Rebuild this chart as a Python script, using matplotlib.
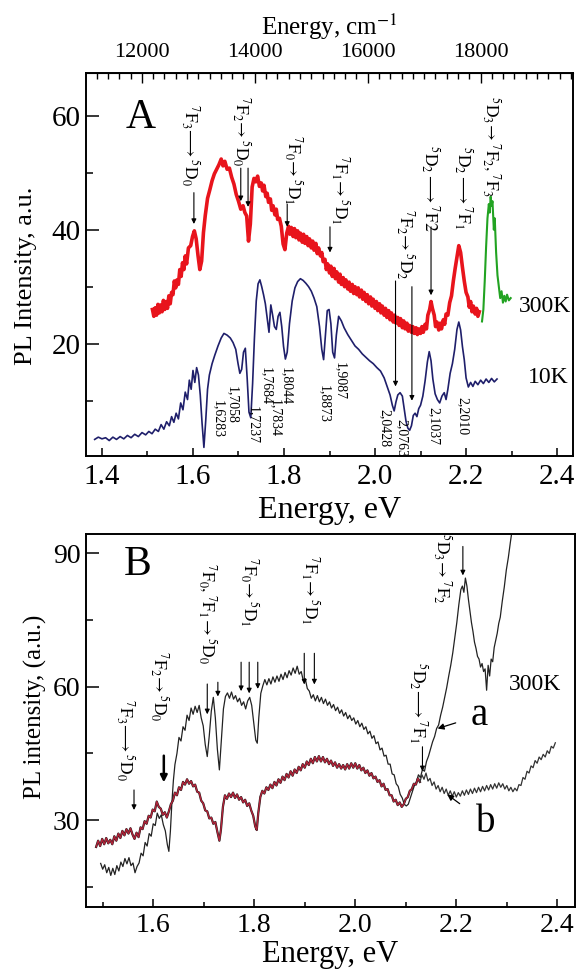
import matplotlib
matplotlib.use('Agg')
import matplotlib.pyplot as plt
from matplotlib.ticker import MultipleLocator, FuncFormatter

plt.rcParams['font.family'] = ['Liberation Serif', 'DejaVu Serif']
plt.rcParams['mathtext.fontset'] = 'stix'

EV_TO_CM = 8065.54

# ---- panel A: PL spectra (energy eV, intensity a.u.) ----
spec_10k = [
    (1.384, 3.2), (1.392, 3.6), (1.400, 3.3), (1.408, 3.5), (1.416, 3.0), (1.424, 3.6), (1.432, 3.2),
    (1.440, 3.7), (1.448, 3.3), (1.456, 3.9), (1.464, 3.5), (1.472, 4.1), (1.480, 3.7), (1.488, 4.4),
    (1.496, 4.0), (1.503, 4.6), (1.510, 4.2), (1.517, 5.0), (1.524, 4.6), (1.530, 5.8), (1.536, 5.0),
    (1.542, 6.3), (1.548, 5.6), (1.553, 7.2), (1.558, 6.2), (1.563, 7.8), (1.568, 6.8), (1.573, 9.6),
    (1.578, 8.4), (1.583, 11.5), (1.588, 10.2), (1.592, 13.6), (1.596, 12.0), (1.600, 15.3), (1.604, 13.2),
    (1.608, 15.8), (1.612, 14.5), (1.616, 11.0), (1.620, 6.0), (1.624, 1.8), (1.628, 6.5), (1.632, 12.0),
    (1.636, 14.5), (1.642, 16.5), (1.648, 18.0), (1.655, 19.6), (1.662, 21.0), (1.668, 21.8), (1.675, 21.5),
    (1.682, 21.0), (1.688, 20.2), (1.694, 19.0), (1.699, 16.5), (1.703, 14.8), (1.707, 15.5), (1.711, 18.5),
    (1.715, 19.2), (1.719, 14.0), (1.723, 8.0), (1.727, 7.0), (1.731, 13.0), (1.735, 21.0), (1.739, 27.5),
    (1.743, 30.5), (1.747, 31.2), (1.751, 30.0), (1.755, 28.6), (1.759, 27.0), (1.763, 24.5), (1.767, 22.0),
    (1.771, 26.8), (1.775, 25.0), (1.779, 23.0), (1.783, 22.5), (1.787, 24.8), (1.791, 25.5), (1.795, 23.0),
    (1.799, 19.5), (1.803, 17.3), (1.807, 18.5), (1.812, 23.5), (1.818, 27.5), (1.824, 29.8), (1.830, 30.9),
    (1.836, 31.4), (1.842, 31.1), (1.848, 30.6), (1.854, 30.0), (1.860, 29.2), (1.866, 28.0), (1.872, 26.5),
    (1.878, 23.0), (1.883, 19.0), (1.887, 17.2), (1.891, 21.5), (1.895, 25.8), (1.899, 26.0), (1.903, 23.5),
    (1.907, 18.5), (1.911, 17.5), (1.915, 21.5), (1.920, 24.8), (1.926, 24.0), (1.932, 22.8), (1.940, 21.6),
    (1.948, 20.6), (1.956, 19.6), (1.964, 19.0), (1.972, 18.2), (1.980, 17.6), (1.988, 17.0), (1.996, 16.5),
    (2.004, 15.8), (2.012, 15.2), (2.020, 14.0), (2.027, 12.4), (2.033, 11.0), (2.038, 9.2), (2.042, 8.2),
    (2.046, 9.8), (2.050, 11.0), (2.055, 11.4), (2.060, 10.8), (2.064, 8.6), (2.068, 6.4), (2.072, 5.2),
    (2.076, 4.8), (2.080, 5.6), (2.084, 7.4), (2.088, 7.8), (2.092, 7.2), (2.096, 8.6), (2.100, 9.2),
    (2.105, 10.8), (2.110, 13.5), (2.115, 16.8), (2.119, 18.6), (2.123, 17.0), (2.127, 13.8), (2.132, 11.2),
    (2.137, 10.2), (2.142, 9.6), (2.147, 10.8), (2.152, 11.4), (2.156, 10.2), (2.160, 12.0), (2.165, 14.8),
    (2.170, 16.5), (2.175, 19.0), (2.180, 22.5), (2.184, 23.8), (2.188, 22.4), (2.192, 19.5), (2.196, 17.2),
    (2.200, 14.0), (2.205, 12.4), (2.210, 13.2), (2.215, 12.5), (2.220, 13.4), (2.226, 12.8), (2.232, 13.6),
    (2.238, 13.0), (2.244, 13.8), (2.250, 13.2), (2.256, 13.9), (2.262, 13.3), (2.268, 13.8),
]

spec_300k = [
    (1.511, 26.0), (1.514, 24.8), (1.517, 26.3), (1.520, 25.0), (1.523, 26.9), (1.526, 25.4), (1.529, 26.8),
    (1.532, 25.6), (1.535, 27.6), (1.538, 26.0), (1.541, 27.4), (1.544, 26.2), (1.547, 28.4), (1.550, 27.0),
    (1.553, 29.0), (1.556, 28.6), (1.559, 31.0), (1.562, 29.8), (1.565, 31.2), (1.568, 30.4), (1.571, 33.0),
    (1.574, 31.8), (1.577, 34.2), (1.580, 33.0), (1.583, 35.4), (1.586, 34.0), (1.590, 36.8), (1.595, 37.2),
    (1.599, 38.8), (1.603, 39.8), (1.607, 38.4), (1.611, 35.5), (1.615, 33.0), (1.619, 34.5), (1.623, 39.5),
    (1.627, 42.5), (1.632, 45.5), (1.637, 47.0), (1.642, 48.6), (1.647, 49.8), (1.652, 50.6), (1.657, 51.4),
    (1.662, 52.4), (1.666, 51.2), (1.670, 52.0), (1.675, 50.6), (1.680, 50.8), (1.685, 49.2), (1.690, 48.0),
    (1.695, 46.2), (1.700, 45.0), (1.705, 43.6), (1.710, 44.2), (1.714, 43.0), (1.718, 42.4), (1.722, 38.0),
    (1.726, 41.0), (1.730, 47.5), (1.734, 49.0), (1.738, 48.4), (1.742, 49.4), (1.746, 47.6), (1.750, 48.2),
    (1.753, 46.8), (1.756, 47.8), (1.760, 45.8), (1.763, 46.4), (1.766, 44.8), (1.770, 45.4), (1.773, 43.4),
    (1.776, 44.2), (1.780, 42.6), (1.783, 43.6), (1.786, 41.8), (1.790, 42.0), (1.794, 40.6), (1.798, 37.5),
    (1.802, 36.5), (1.806, 39.4), (1.810, 40.6), (1.813, 39.2), (1.816, 40.4), (1.820, 38.8), (1.823, 40.2),
    (1.826, 38.6), (1.830, 39.8), (1.833, 38.2), (1.836, 39.4), (1.840, 37.8), (1.843, 39.2), (1.846, 37.6),
    (1.850, 38.8), (1.853, 37.2), (1.856, 38.4), (1.860, 36.8), (1.863, 38.0), (1.866, 36.4), (1.870, 37.6),
    (1.873, 35.8), (1.876, 36.8), (1.880, 35.4), (1.883, 36.0), (1.886, 34.4), (1.890, 34.8), (1.893, 33.0),
    (1.896, 34.0), (1.900, 32.4), (1.903, 33.6), (1.906, 31.8), (1.910, 33.2), (1.913, 31.4), (1.916, 32.6),
    (1.920, 30.8), (1.923, 32.2), (1.926, 30.4), (1.930, 31.6), (1.933, 30.0), (1.936, 31.2), (1.940, 29.6),
    (1.943, 30.8), (1.946, 29.2), (1.950, 30.4), (1.953, 28.8), (1.956, 30.0), (1.960, 28.6), (1.963, 29.8),
    (1.966, 28.2), (1.970, 29.4), (1.973, 27.8), (1.976, 29.0), (1.980, 27.4), (1.983, 28.6), (1.986, 27.0),
    (1.990, 28.2), (1.993, 26.6), (1.996, 27.8), (2.000, 26.2), (2.003, 27.4), (2.006, 25.8), (2.010, 27.0),
    (2.013, 25.4), (2.016, 26.6), (2.020, 25.0), (2.023, 26.2), (2.026, 24.6), (2.030, 25.8), (2.033, 24.2),
    (2.036, 25.4), (2.040, 23.8), (2.043, 25.0), (2.046, 23.6), (2.050, 24.6), (2.053, 23.2), (2.056, 24.4),
    (2.060, 22.8), (2.063, 24.0), (2.066, 22.6), (2.070, 23.6), (2.073, 22.2), (2.076, 23.2), (2.080, 22.0),
    (2.083, 23.0), (2.086, 21.8), (2.090, 22.8), (2.093, 21.6), (2.096, 22.6), (2.100, 21.8), (2.103, 23.0),
    (2.106, 22.0), (2.110, 23.4), (2.113, 22.6), (2.116, 25.0), (2.120, 26.0), (2.123, 27.4), (2.126, 26.2),
    (2.130, 25.0), (2.133, 23.0), (2.136, 23.8), (2.140, 22.4), (2.143, 23.6), (2.146, 22.6), (2.150, 24.2),
    (2.153, 23.4), (2.156, 25.2), (2.160, 25.0), (2.164, 27.2), (2.168, 28.4), (2.172, 31.0), (2.176, 33.2),
    (2.180, 35.2), (2.184, 37.2), (2.188, 36.0), (2.192, 33.4), (2.196, 31.0), (2.200, 29.0), (2.204, 28.2),
    (2.207, 26.4), (2.210, 27.4), (2.213, 25.6), (2.216, 26.6), (2.220, 25.2), (2.223, 26.2), (2.226, 24.8),
    (2.229, 25.6),
]

spec_300k_green = [
    (2.235, 23.9), (2.238, 26.0), (2.241, 31.0), (2.244, 37.0), (2.247, 42.0), (2.250, 44.5), (2.252, 43.0),
    (2.254, 45.8), (2.256, 44.2), (2.258, 45.0), (2.261, 40.0), (2.263, 42.0), (2.266, 36.0), (2.269, 32.0),
    (2.272, 30.0), (2.275, 28.0), (2.278, 29.2), (2.281, 27.2), (2.284, 28.4), (2.287, 27.4), (2.290, 28.6),
    (2.294, 27.6), (2.298, 28.0),
]

# transition labels of panel A: (text, x, y) and arrows (x, y_from, y_to)
labels_a = [
    (r'$^7\mathrm{F}_3\!\longrightarrow{}^5\mathrm{D}_0$', 1.593, 54.8),
    (r'$^7\mathrm{F}_2\!\rightarrow{}^5\mathrm{D}_0$', 1.707, 57.2),
    (r'$^7\mathrm{F}_0\!\rightarrow{}^5\mathrm{D}_1$', 1.821, 50.4),
    (r'$^7\mathrm{F}_1\!\rightarrow{}^5\mathrm{D}_1$', 1.923, 46.9),
    (r'$^7\mathrm{F}_2\!\rightarrow{}^5\mathrm{D}_2$', 2.066, 37.5),
    (r'$^5\mathrm{D}_2\longrightarrow{}^7\mathrm{F}2$', 2.122, 47.2),
    (r'$^5\mathrm{D}_2\longrightarrow{}^7\mathrm{F}_1$', 2.194, 47.4),
    (r'$^5\mathrm{D}_3\!\rightarrow{}^7\mathrm{F}_2,{}^7\mathrm{F}_3$', 2.257, 54.6),
]
arrows_a = [
    (1.602, 46.5, 41.0), (1.705, 50.8, 45.0), (1.721, 50.8, 44.0), (1.807, 44.5, 40.5),
    (1.901, 40.5, 36.0), (2.045, 31.0, 12.5), (2.081, 30.0, 10.0), (2.123, 40.5, 28.5),
]
peaks_a = [
    ('1,6283', 1.654, 6.8), ('1,7058', 1.686, 9.3), ('1,7237', 1.731, 5.8), ('1,7684', 1.761, 12.6),
    ('1,7834', 1.781, 7.0), ('1,8044', 1.805, 12.6), ('1,8873', 1.887, 9.5), ('1,9087', 1.923, 13.4),
    ('2,0428', 2.022, 5.2), ('2,0763', 2.058, 3.4), ('2,1037', 2.128, 5.5), ('2,2010', 2.193, 7.3),
]

# ---- panel B: curves a and b ----
curve_a = [
    (1.496, 20.3), (1.500, 19.0), (1.504, 20.0), (1.508, 18.2), (1.512, 19.4), (1.516, 17.6), (1.520, 19.2),
    (1.524, 17.8), (1.528, 19.8), (1.532, 18.6), (1.536, 20.6), (1.540, 19.6), (1.544, 21.4), (1.548, 20.2),
    (1.552, 21.6), (1.556, 19.8), (1.560, 20.4), (1.564, 18.2), (1.568, 19.6), (1.572, 20.4), (1.576, 22.6),
    (1.580, 22.0), (1.584, 25.0), (1.588, 24.2), (1.592, 27.0), (1.596, 26.4), (1.600, 29.2), (1.604, 28.8),
    (1.608, 31.6), (1.612, 30.4), (1.616, 31.2), (1.620, 29.0), (1.624, 27.6), (1.628, 24.5), (1.631, 23.0),
    (1.634, 27.5), (1.637, 34.0), (1.640, 39.0), (1.643, 42.5), (1.647, 45.0), (1.651, 48.6), (1.655, 47.8),
    (1.659, 51.0), (1.663, 50.2), (1.667, 53.6), (1.671, 52.4), (1.675, 55.2), (1.679, 53.8), (1.683, 55.6),
    (1.687, 54.2), (1.691, 55.8), (1.695, 53.0), (1.699, 51.2), (1.703, 47.0), (1.707, 44.3), (1.711, 49.0),
    (1.715, 54.5), (1.719, 57.6), (1.723, 53.0), (1.727, 46.0), (1.731, 41.3), (1.735, 48.0), (1.739, 55.0),
    (1.743, 57.8), (1.747, 58.6), (1.751, 57.4), (1.755, 58.8), (1.759, 57.2), (1.763, 58.0), (1.767, 56.6),
    (1.771, 57.4), (1.775, 55.8), (1.779, 56.6), (1.783, 55.0), (1.787, 56.8), (1.791, 57.6), (1.795, 55.8),
    (1.799, 52.0), (1.803, 48.0), (1.806, 47.3), (1.809, 53.0), (1.813, 58.5), (1.817, 60.2), (1.821, 61.6),
    (1.825, 60.4), (1.829, 61.8), (1.833, 60.6), (1.837, 62.2), (1.841, 61.0), (1.845, 62.4), (1.849, 61.2),
    (1.853, 62.8), (1.857, 61.6), (1.861, 63.2), (1.865, 62.0), (1.869, 63.6), (1.873, 62.6), (1.877, 64.2),
    (1.881, 63.0), (1.885, 64.6), (1.889, 62.8), (1.893, 63.4), (1.897, 61.4), (1.901, 61.8), (1.905, 59.6),
    (1.909, 59.0), (1.913, 57.4), (1.917, 58.2), (1.921, 56.8), (1.925, 58.0), (1.929, 56.6), (1.933, 57.6),
    (1.937, 56.2), (1.941, 57.2), (1.945, 55.8), (1.949, 56.6), (1.953, 55.2), (1.957, 56.0), (1.961, 54.6),
    (1.965, 55.4), (1.969, 54.0), (1.973, 54.8), (1.977, 53.4), (1.981, 54.2), (1.985, 52.8), (1.989, 53.6),
    (1.993, 52.4), (1.997, 53.0), (2.001, 51.6), (2.005, 52.4), (2.009, 51.0), (2.013, 51.8), (2.017, 50.4),
    (2.021, 51.0), (2.025, 49.4), (2.029, 50.0), (2.033, 48.4), (2.037, 49.0), (2.041, 47.2), (2.045, 47.6),
    (2.049, 45.8), (2.053, 46.2), (2.057, 44.4), (2.061, 44.6), (2.065, 42.6), (2.069, 42.6), (2.073, 40.4),
    (2.077, 40.2), (2.081, 38.2), (2.085, 37.6), (2.089, 35.8), (2.093, 35.0), (2.097, 33.6), (2.101, 33.2),
    (2.105, 33.6), (2.109, 35.0), (2.113, 36.4), (2.117, 37.8), (2.121, 38.6), (2.125, 40.2), (2.129, 39.6),
    (2.133, 41.4), (2.137, 41.0), (2.141, 43.2), (2.145, 44.4), (2.149, 46.0), (2.153, 47.6), (2.157, 48.8),
    (2.161, 50.6), (2.165, 51.4), (2.169, 53.6), (2.173, 55.4), (2.177, 57.6), (2.181, 59.8), (2.185, 62.4),
    (2.189, 64.8), (2.193, 67.6), (2.197, 71.0), (2.201, 74.4), (2.205, 78.4), (2.209, 81.8), (2.212, 82.6),
    (2.215, 81.2), (2.218, 84.4), (2.221, 82.6), (2.224, 79.6), (2.227, 77.0), (2.230, 74.4), (2.233, 72.4),
    (2.236, 70.0), (2.239, 68.6), (2.242, 66.8), (2.245, 66.2), (2.248, 64.4), (2.251, 65.2), (2.254, 63.4),
    (2.257, 64.0), (2.260, 59.2), (2.263, 64.8), (2.266, 62.4), (2.269, 66.2), (2.272, 65.6), (2.275, 68.8),
    (2.278, 70.4), (2.281, 72.0), (2.284, 74.2), (2.287, 75.6), (2.291, 79.2), (2.295, 82.4), (2.299, 86.2),
    (2.303, 89.0), (2.307, 92.4), (2.311, 95.6),
]

curve_b_red = [
    (1.487, 24.0), (1.491, 25.4), (1.495, 24.2), (1.499, 25.8), (1.503, 24.6), (1.507, 26.0), (1.511, 24.8),
    (1.515, 25.6), (1.519, 24.6), (1.523, 26.4), (1.527, 25.4), (1.531, 27.0), (1.535, 26.0), (1.539, 27.6),
    (1.543, 26.6), (1.547, 28.0), (1.551, 27.0), (1.555, 28.2), (1.559, 26.8), (1.563, 25.8), (1.567, 27.2),
    (1.571, 26.2), (1.575, 28.4), (1.579, 28.0), (1.583, 29.8), (1.587, 29.2), (1.591, 31.0), (1.595, 30.6),
    (1.599, 32.4), (1.603, 32.0), (1.607, 34.2), (1.611, 33.0), (1.615, 32.6), (1.619, 31.2), (1.623, 31.8),
    (1.627, 30.6), (1.631, 32.0), (1.635, 33.6), (1.639, 34.4), (1.643, 36.2), (1.647, 35.6), (1.651, 37.4),
    (1.655, 36.8), (1.659, 38.6), (1.663, 38.0), (1.667, 39.2), (1.671, 38.2), (1.675, 38.8), (1.679, 37.6),
    (1.683, 38.0), (1.687, 36.4), (1.691, 36.2), (1.695, 34.4), (1.699, 33.8), (1.703, 32.2), (1.707, 32.0),
    (1.711, 30.4), (1.715, 30.6), (1.719, 29.2), (1.723, 29.6), (1.727, 27.4), (1.731, 25.4), (1.734, 27.8),
    (1.738, 33.0), (1.742, 35.6), (1.746, 34.8), (1.750, 36.0), (1.754, 35.2), (1.758, 36.2), (1.762, 35.0),
    (1.766, 35.8), (1.770, 34.6), (1.774, 35.2), (1.778, 34.0), (1.782, 34.6), (1.786, 33.2), (1.790, 33.8),
    (1.794, 32.2), (1.798, 31.0), (1.802, 28.6), (1.805, 27.8), (1.808, 31.6), (1.812, 35.2), (1.816, 36.6),
    (1.820, 36.0), (1.824, 37.4), (1.828, 36.8), (1.832, 38.0), (1.836, 37.2), (1.840, 38.6), (1.844, 37.8),
    (1.848, 39.2), (1.852, 38.4), (1.856, 39.8), (1.860, 39.0), (1.864, 40.4), (1.868, 39.6), (1.872, 41.0),
    (1.876, 40.0), (1.880, 41.4), (1.884, 40.6), (1.888, 42.0), (1.892, 41.2), (1.896, 42.6), (1.900, 41.8),
    (1.904, 43.2), (1.908, 42.4), (1.912, 43.8), (1.916, 42.8), (1.920, 44.2), (1.924, 43.2), (1.928, 44.4),
    (1.932, 43.2), (1.936, 44.2), (1.940, 43.0), (1.944, 43.8), (1.948, 42.6), (1.952, 43.4), (1.956, 42.2),
    (1.960, 43.0), (1.964, 41.8), (1.968, 42.6), (1.972, 41.6), (1.976, 42.4), (1.980, 41.4), (1.984, 42.6),
    (1.988, 41.6), (1.992, 42.8), (1.996, 41.8), (2.000, 42.8), (2.004, 41.6), (2.008, 42.4), (2.012, 41.2),
    (2.016, 41.8), (2.020, 40.6), (2.024, 41.2), (2.028, 40.0), (2.032, 40.6), (2.036, 39.4), (2.040, 39.8),
    (2.044, 38.6), (2.048, 39.0), (2.052, 37.6), (2.056, 38.2), (2.060, 36.8), (2.064, 37.0), (2.068, 35.6),
    (2.072, 35.6), (2.076, 34.2), (2.080, 34.6), (2.084, 33.4), (2.088, 34.0), (2.092, 33.0), (2.096, 33.6),
    (2.100, 34.8), (2.104, 35.2), (2.108, 36.6), (2.112, 37.0), (2.116, 38.2), (2.120, 38.0), (2.124, 39.4),
    (2.128, 38.6),
]

curve_b_grey = [
    (2.128, 38.6), (2.132, 40.2), (2.136, 39.2), (2.140, 40.6), (2.144, 38.8), (2.148, 39.4), (2.152, 37.8),
    (2.156, 38.6), (2.160, 37.0), (2.164, 37.8), (2.168, 36.4), (2.172, 37.4), (2.176, 36.0), (2.180, 37.0),
    (2.184, 35.6), (2.188, 36.6), (2.192, 35.4), (2.196, 36.4), (2.200, 35.2), (2.204, 36.2), (2.208, 35.4),
    (2.212, 36.6), (2.216, 35.6), (2.220, 36.8), (2.224, 35.8), (2.228, 37.0), (2.232, 36.0), (2.236, 37.2),
    (2.240, 36.2), (2.244, 37.4), (2.248, 36.4), (2.252, 37.6), (2.256, 36.6), (2.260, 37.8), (2.264, 36.8),
    (2.268, 38.0), (2.272, 37.0), (2.276, 38.2), (2.280, 37.2), (2.284, 38.4), (2.288, 37.4), (2.292, 38.2),
    (2.296, 37.0), (2.300, 37.8), (2.304, 36.6), (2.308, 37.4), (2.312, 36.4), (2.316, 37.2), (2.320, 36.6),
    (2.324, 38.0), (2.328, 37.8), (2.332, 39.6), (2.336, 39.2), (2.340, 41.0), (2.344, 40.6), (2.348, 42.2),
    (2.352, 41.8), (2.356, 43.4), (2.360, 42.8), (2.364, 44.2), (2.368, 43.6), (2.372, 44.8), (2.376, 44.2),
    (2.380, 45.6), (2.384, 45.0), (2.388, 46.6), (2.392, 46.2), (2.396, 47.4),
]

labels_b = [
    (r'$^7\mathrm{F}_3\!\longrightarrow{}^5\mathrm{D}_0$', 1.544, 48.0),
    (r'$^7\mathrm{F}_2\!\rightarrow{}^5\mathrm{D}_0$', 1.612, 60.0),
    (r'$^7\mathrm{F}_0,{}^7\mathrm{F}_1\!\rightarrow{}^5\mathrm{D}_0$', 1.709, 76.4),
    (r'$^7\mathrm{F}_0\!\rightarrow{}^5\mathrm{D}_1$', 1.790, 81.3),
    (r'$^7\mathrm{F}_1\!\rightarrow{}^5\mathrm{D}_1$', 1.911, 81.7),
    (r'$^5\mathrm{D}_3\!\rightarrow{}^7\mathrm{F}_2$', 2.173, 86.5),
    (r'$^5\mathrm{D}_2\!\longrightarrow{}^7\mathrm{F}_1$', 2.124, 56.5),
]
arrows_b = [
    (1.562, 36.8, 32.3), (1.707, 60.6, 53.8), (1.728, 61.0, 57.8), (1.774, 65.5, 59.0),
    (1.790, 65.5, 58.5), (1.807, 65.5, 59.5), (1.899, 67.5, 60.5), (1.919, 67.5, 60.5),
    (2.213, 91.5, 85.0), (2.133, 46.5, 41.0),
]
bold_arrow_b = (1.621, 44.5, 38.5)


def unzip(pts):
    return [p[0] for p in pts], [p[1] for p in pts]


def down_arrow(ax, x, y0, y1, lw=0.8, ms=7):
    ax.annotate('', xy=(x, y1), xytext=(x, y0),
                arrowprops=dict(arrowstyle='-|>', color='k', lw=lw, mutation_scale=ms,
                                shrinkA=0, shrinkB=0))


def style_axis(ax):
    for s in ax.spines.values():
        s.set_linewidth(1.4)
    ax.tick_params(axis='both', which='both', direction='in', top=False, right=False, width=1.1)
    ax.tick_params(axis='y', which='major', length=9, labelsize=21, pad=4)
    ax.tick_params(axis='y', which='minor', length=5)
    ax.tick_params(axis='x', which='major', length=6, labelsize=21, pad=6)
    ax.tick_params(axis='x', which='minor', length=3.5)


def main():
    fig = plt.figure(figsize=(5.82, 9.73), dpi=100)
    ax_a = fig.add_axes([0.1478, 0.5314, 0.8368, 0.3936])
    ax_b = fig.add_axes([0.1478, 0.0678, 0.8402, 0.3834])

    # ---------- panel A ----------
    x, y = unzip(spec_10k)
    ax_a.plot(x, y, color='#1f1f6b', lw=1.2)
    x, y = unzip(spec_300k)
    ax_a.plot(x, y, color='#e8141c', lw=2.6)
    x, y = unzip(spec_300k_green)
    ax_a.plot(x, y, color='#22a322', lw=1.5)

    ax_a.set_xlim(1.365, 2.435)
    ax_a.set_ylim(0.3, 67.5)
    ax_a.xaxis.set_major_locator(MultipleLocator(0.2))
    ax_a.xaxis.set_minor_locator(MultipleLocator(0.1))
    ax_a.set_yticks([20, 40, 60])
    ax_a.yaxis.set_minor_locator(MultipleLocator(10))
    style_axis(ax_a)
    ax_a.xaxis.set_major_formatter(FuncFormatter(lambda v, p: f'{v:.1f}'))

    sec = ax_a.secondary_xaxis('top', functions=(lambda e: e * EV_TO_CM, lambda c: c / EV_TO_CM))
    sec.set_xticks([12000, 14000, 16000, 18000])
    sec.xaxis.set_minor_locator(MultipleLocator(200))
    sec.tick_params(which='both', direction='in', width=1.0)
    sec.tick_params(which='major', length=7, labelsize=16, pad=8)
    sec.tick_params(which='minor', length=4)
    sec.set_xlabel('Energy, cm$^{-1}$', fontsize=18, labelpad=6)

    ax_a.set_xlabel('Energy, eV', fontsize=23)
    ax_a.xaxis.set_label_coords(0.5, -0.105)
    ax_a.set_ylabel('PL Intensity, a.u.', fontsize=19)
    ax_a.yaxis.set_label_coords(-0.10, 0.47)

    ax_a.text(1.484, 59.6, 'A', fontsize=30, ha='center', va='center')
    ax_a.text(2.374, 26.5, '300K', fontsize=17, ha='center', va='center')
    ax_a.text(2.380, 14.0, '10K', fontsize=17, ha='center', va='center')

    for txt, tx, ty in labels_a:
        ax_a.text(tx, ty, txt, rotation=-90, fontsize=12.5, ha='center', va='center')
    for ax_x, y0, y1 in arrows_a:
        down_arrow(ax_a, ax_x, y0, y1)
    for txt, tx, ty in peaks_a:
        ax_a.text(tx, ty, txt, rotation=-90, fontsize=10, ha='center', va='center')

    # ---------- panel B ----------
    x, y = unzip(curve_a)
    ax_b.plot(x, y, color='#222222', lw=0.9)
    x, y = unzip(curve_b_red)
    ax_b.plot(x, y, color='#1a1a1a', lw=1.6)
    ax_b.plot(x, y, color='#b3243a', lw=1.0)
    x, y = unzip(curve_b_grey)
    ax_b.plot(x, y, color='#333333', lw=0.9)

    ax_b.set_xlim(1.467, 2.435)
    ax_b.set_ylim(10.5, 94.3)
    ax_b.set_xticks([1.6, 1.8, 2.0, 2.2, 2.4])
    ax_b.xaxis.set_minor_locator(MultipleLocator(0.1))
    ax_b.set_yticks([30, 60, 90])
    ax_b.yaxis.set_minor_locator(MultipleLocator(15))
    style_axis(ax_b)
    ax_b.tick_params(axis='both', which='major', labelsize=20)
    ax_b.tick_params(axis='x', which='major', pad=4)
    ax_b.xaxis.set_major_formatter(FuncFormatter(lambda v, p: f'{v:.1f}'))

    ax_b.set_xlabel('Energy, eV', fontsize=22)
    ax_b.xaxis.set_label_coords(0.5, -0.088)
    ax_b.set_ylabel('PL intensity, (a.u.)', fontsize=18)
    ax_b.yaxis.set_label_coords(-0.08, 0.536)

    ax_b.text(1.569, 87.3, 'B', fontsize=30, ha='center', va='center')
    ax_b.text(2.355, 60.5, '300K', fontsize=17, ha='center', va='center')

    for txt, tx, ty in labels_b:
        ax_b.text(tx, ty, txt, rotation=-90, fontsize=12.5, ha='center', va='center')
    for ax_x, y0, y1 in arrows_b:
        down_arrow(ax_b, ax_x, y0, y1)
    down_arrow(ax_b, *bold_arrow_b, lw=1.8, ms=10)

    ax_b.annotate('a', xy=(2.163, 50.6), xytext=(2.245, 53.5), fontsize=28, ha='center', va='center',
                  arrowprops=dict(arrowstyle='-|>', color='k', lw=0.9, mutation_scale=9,
                                  shrinkA=9, shrinkB=0))
    ax_b.annotate('b', xy=(2.182, 35.8), xytext=(2.258, 29.4), fontsize=28, ha='center', va='center',
                  arrowprops=dict(arrowstyle='-|>', color='k', lw=0.9, mutation_scale=9,
                                  shrinkA=12, shrinkB=0))

    fig.savefig('out.png', dpi=100)


if __name__ == '__main__':
    main()
